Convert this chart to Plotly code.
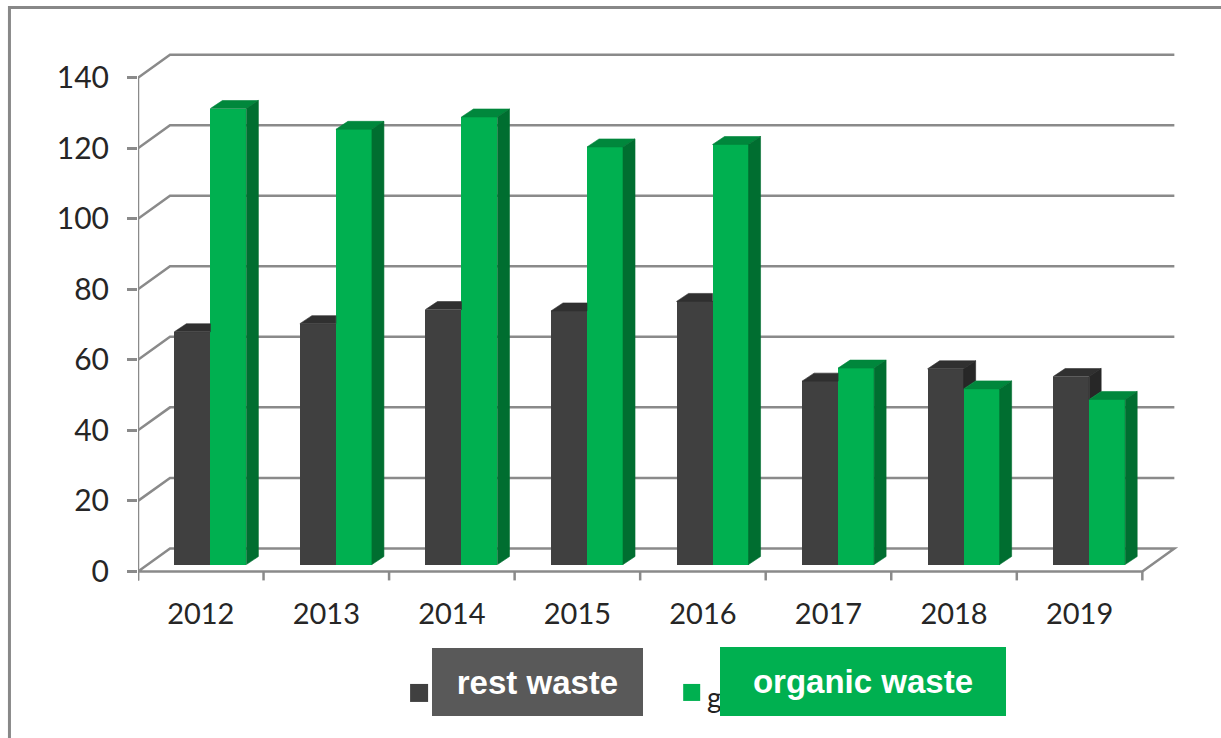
import plotly.graph_objects as go

# ---------------- data ----------------
years = ["2012", "2013", "2014", "2015", "2016", "2017", "2018", "2019"]
rest_waste = [66.0, 68.3, 72.3, 71.9, 74.6, 52.0, 55.5, 53.3]
organic_waste = [129.3, 123.4, 126.9, 118.4, 119.1, 55.7, 49.8, 46.8]
y_ticks = [0, 20, 40, 60, 80, 100, 120, 140]
legend_labels = ["rest waste", "organic waste"]

# ---------------- geometry ----------------
W, H = 1221, 738
ML, MT = 138, 53
K = 125.5            # px per category
XMAX = 8.3
YMIN, YMAX = -3.0, 147.0
S = 3.527            # px per value unit
PW = XMAX * K
PH = (YMAX - YMIN) * S
MR = W - ML - PW
MB = H - MT - PH

n = len(years)
DX, DY = 32 / K, 23 / S          # depth of back wall
BF = 0.3                          # depth of bar front plane
BDX, BDY = 12 / K, 8 / S          # bar depth
BW = 36 / K                       # bar width
BASE = BF * DY
TICKDROP = 9 / S

GRID = "#8a8a8a"
C_DARK, C_DARK_TOP, C_DARK_SIDE = "#404040", "#303030", "#272727"
C_GREEN, C_GREEN_TOP, C_GREEN_SIDE = "#00b050", "#00873c", "#006e30"


def px_to_paper(x, y):
    return (x - ML) / PW, 1 - (y - MT) / PH


x_dark = [i + 0.5 + BF * DX - BW / 2 for i in range(n)]
x_green = [i + 0.5 + BF * DX + BW / 2 for i in range(n)]

fig = go.Figure()
fig.add_trace(go.Bar(x=x_dark, y=rest_waste, base=BASE, width=BW,
                     marker=dict(color=C_DARK, line=dict(width=0)),
                     name=legend_labels[0], hoverinfo="skip", showlegend=False))
fig.add_trace(go.Bar(x=x_green, y=organic_waste, base=BASE, width=BW,
                     marker=dict(color=C_GREEN, line=dict(width=0)),
                     name=legend_labels[1], hoverinfo="skip", showlegend=False))


def poly_trace(polys, color):
    xs, ys = [], []
    for p in polys:
        for (a, b) in p + [p[0]]:
            xs.append(a)
            ys.append(b)
        xs.append(None)
        ys.append(None)
    return go.Scatter(x=xs, y=ys, mode="lines", fill="toself", fillcolor=color,
                      line=dict(color=color, width=0.6), hoverinfo="skip",
                      showlegend=False)


dark_top, dark_side, green_top, green_side = [], [], [], []
for i in range(n):
    d, g = rest_waste[i], organic_waste[i]
    x0 = x_dark[i] - BW / 2
    x1 = x_dark[i] + BW / 2
    x2 = x_green[i] + BW / 2
    b = BASE
    if d > g:
        dark_top.append([(x0, b + d), (x1, b + d), (x1 + BDX, b + d + BDY), (x0 + BDX, b + d + BDY)])
        dark_side.append([(x1, b + g), (x1, b + d), (x1 + BDX, b + d + BDY), (x1 + BDX, b + g + BDY)])
    else:
        dark_top.append([(x0, b + d), (x1, b + d), (x1, b + d + BDY), (x0 + BDX, b + d + BDY)])
    green_top.append([(x1, b + g), (x2, b + g), (x2 + BDX, b + g + BDY), (x1 + BDX, b + g + BDY)])
    green_side.append([(x2, b), (x2, b + g), (x2 + BDX, b + g + BDY), (x2 + BDX, b + BDY)])

fig.add_trace(poly_trace(dark_top, C_DARK_TOP))
fig.add_trace(poly_trace(dark_side, C_DARK_SIDE))
fig.add_trace(poly_trace(green_top, C_GREEN_TOP))
fig.add_trace(poly_trace(green_side, C_GREEN_SIDE))

shapes = []
line = dict(color=GRID, width=2.5)
for v in y_ticks:
    if v == 0:
        continue
    shapes.append(dict(type="path", xref="x", yref="y", layer="below", line=line,
                       path=f"M 0,{v} L {DX},{v + DY} L {n + DX},{v + DY}"))
# floor
shapes.append(dict(type="path", xref="x", yref="y", layer="below", line=line,
                   path=f"M 0,0 L {DX},{DY} L {n + DX},{DY} L {n},0 Z"))
# front vertical axis
shapes.append(dict(type="line", xref="x", yref="y", layer="below", line=line,
                   x0=0, x1=0, y0=-TICKDROP, y1=y_ticks[-1]))
# category tick marks
for i in range(n + 1):
    shapes.append(dict(type="line", xref="x", yref="y", layer="below", line=line,
                       x0=i, x1=i, y0=0, y1=-TICKDROP))

# outer frame
fx0, fy0 = px_to_paper(9.5, 7.5)
fx1, fy1 = px_to_paper(W + 20, H + 20)
shapes.append(dict(type="rect", xref="paper", yref="paper", x0=fx0, y0=fy1, x1=fx1, y1=fy0,
                   line=dict(color="#888888", width=3), fillcolor="rgba(0,0,0,0)", layer="below"))

# legend squares
for (lx0, ly0, lx1, ly1, col) in [(410, 684, 428, 702, C_DARK), (683, 684, 700, 701, C_GREEN)]:
    a0, b0 = px_to_paper(lx0, ly0)
    a1, b1 = px_to_paper(lx1, ly1)
    shapes.append(dict(type="rect", xref="paper", yref="paper", x0=a0, x1=a1, y0=b1, y1=b0,
                       fillcolor=col, line=dict(width=0), layer="above"))

annotations = []
gx, gy = px_to_paper(705, 697)
annotations.append(dict(xref="paper", yref="paper", x=gx, y=gy, xanchor="left", yanchor="middle",
                        text="g", showarrow=False,
                        font=dict(family="Lato, Calibri, sans-serif", size=28, color="#222222")))
for (bx0, by0, bw, bh, col, label) in [(432, 648, 211, 68, "#595959", legend_labels[0]),
                                         (720, 647, 286, 69, C_GREEN, legend_labels[1])]:
    ax, ay = px_to_paper(bx0, by0)
    annotations.append(dict(xref="paper", yref="paper", x=ax, y=ay, xanchor="left", yanchor="top",
                            width=bw, height=bh, bgcolor=col, borderpad=0, borderwidth=0,
                            align="center", valign="middle", showarrow=False,
                            text=f"<b>{label}</b>",
                            font=dict(family="Liberation Sans, Arial, sans-serif", size=33,
                                      color="white")))

fig.update_layout(
    width=W, height=H,
    margin=dict(l=ML, r=MR, t=MT, b=MB, pad=0),
    paper_bgcolor="white", plot_bgcolor="white",
    barmode="overlay", bargap=0,
    showlegend=False,
    shapes=shapes, annotations=annotations,
    xaxis=dict(range=[0, XMAX], tickvals=[i + 0.5 for i in range(n)], ticktext=years,
               ticks="", showgrid=False, zeroline=False, showline=False,
               ticklabelstandoff=12,
               tickfont=dict(family="Lato, Calibri, sans-serif", size=29, color="#262626")),
    yaxis=dict(range=[YMIN, YMAX], tickvals=y_ticks, ticks="outside", ticklen=10,
               tickwidth=2.5, tickcolor=GRID, showgrid=False, zeroline=False, showline=False,
               ticklabelstandoff=12,
               tickfont=dict(family="Lato, Calibri, sans-serif", size=30, color="#262626")),
)

fig.write_html("out.html", config={"displayModeBar": False},
               post_script="document.body.style.margin='0';")
